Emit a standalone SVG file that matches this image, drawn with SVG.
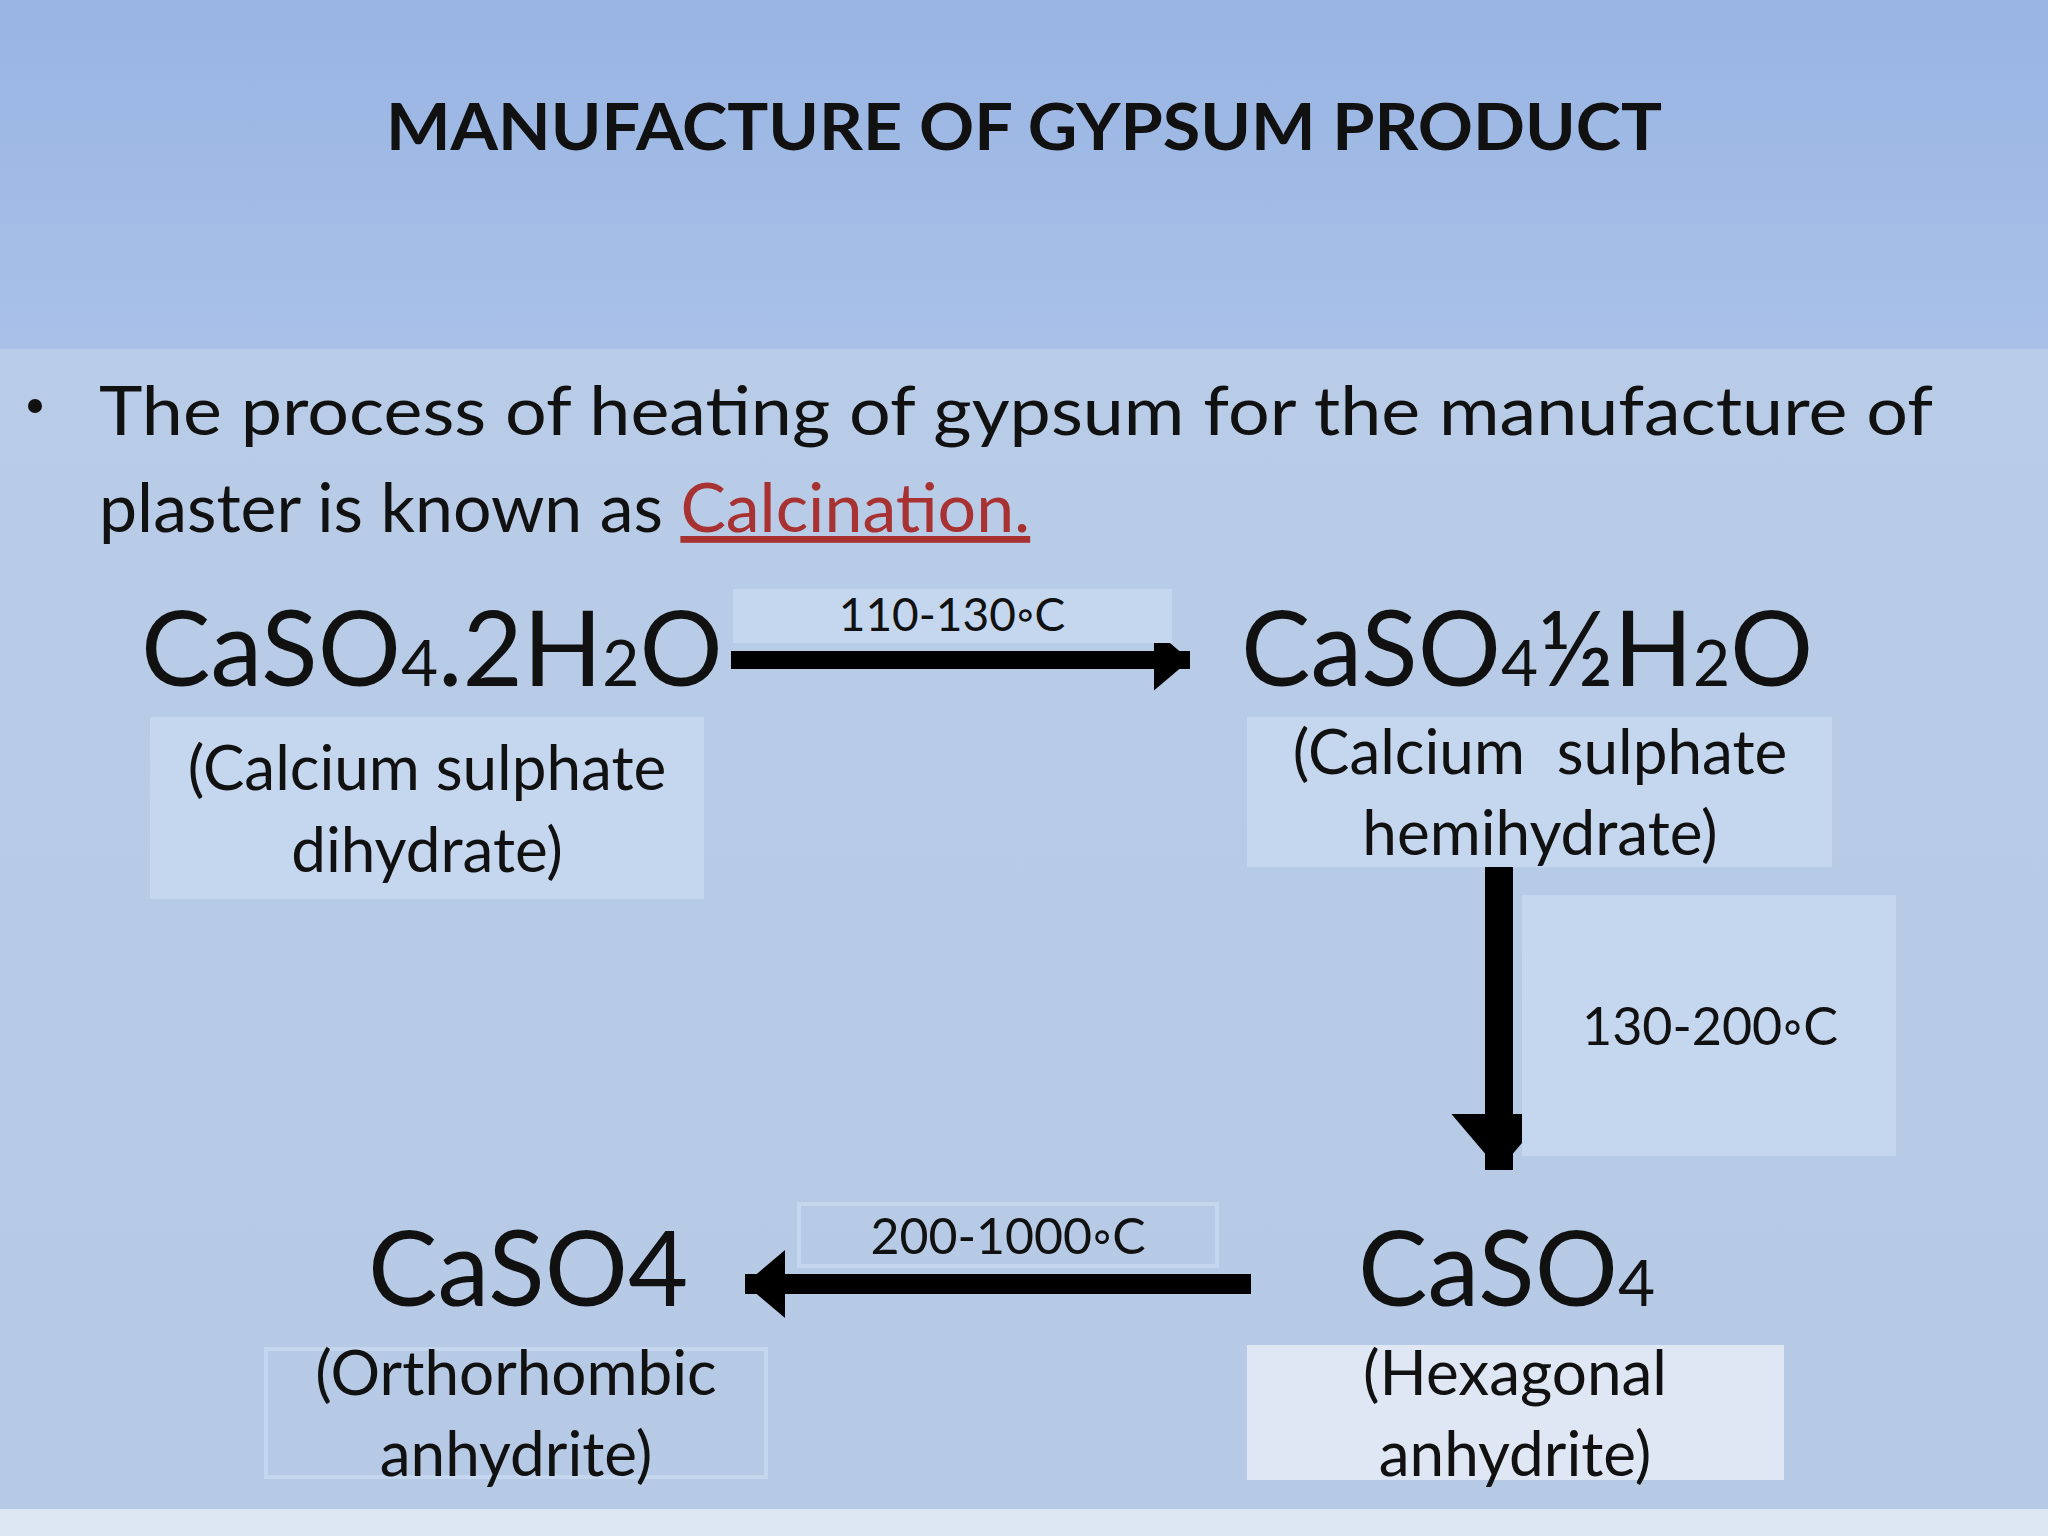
<svg xmlns="http://www.w3.org/2000/svg" width="2048" height="1536" viewBox="0 0 2048 1536">
<defs>
<linearGradient id="hd" x1="0" y1="0" x2="0" y2="1"><stop offset="0" stop-color="#98b4e2"/><stop offset="1" stop-color="#a9c1e9"/></linearGradient>
<linearGradient id="bd" x1="0" y1="0" x2="0" y2="1"><stop offset="0" stop-color="#b9cde9"/><stop offset="1" stop-color="#b6cae6"/></linearGradient>
<marker id="ah" markerWidth="4" markerHeight="4" refX="2" refY="2" orient="auto" markerUnits="strokeWidth"><path d="M0,0.3 L2,2 L0,3.7 Z" fill="#000"/></marker>
</defs>
<style>
text{font-family:Lato,"Liberation Sans",sans-serif;fill:#111}
.f{font-size:104px}.s{font-size:64px}
.l{font-size:62px;text-anchor:middle}
.t{font-size:46px;text-anchor:middle}
.ar{stroke:#000;fill:none}
</style>
<rect width="2048" height="1536" fill="url(#bd)"/>
<rect width="2048" height="349" fill="url(#hd)"/>
<rect y="1509" width="2048" height="27" fill="#dde6f3"/>
<text x="1024" y="150" font-size="65" font-weight="bold" text-anchor="middle" textLength="1276" lengthAdjust="spacingAndGlyphs">MANUFACTURE OF GYPSUM PRODUCT</text>
<g id="bullet">
<circle cx="35" cy="406" r="7" fill="#111"/>
<text x="99" y="435" font-size="68" textLength="1834" lengthAdjust="spacingAndGlyphs">The process of heating of gypsum for the manufacture of</text>
<text x="99" y="532" font-size="68">plaster is known as <tspan fill="#a83232" text-decoration="underline">Calcination.</tspan></text>
</g>
<g id="n1">
<text class="f" x="141" y="686">CaSO<tspan class="s">4</tspan>.2H<tspan class="s">2</tspan>O</text>
<rect x="150" y="717" width="554" height="182" fill="#c5d6ef"/>
<text class="l" x="427" y="790">(Calcium sulphate</text>
<text class="l" x="427" y="872">dihydrate)</text>
</g>
<g id="n2">
<text class="f" x="1241" y="686">CaSO<tspan class="s">4</tspan>½H<tspan class="s">2</tspan>O</text>
<rect x="1247" y="717" width="585" height="150" fill="#c5d6ef"/>
<text class="l" x="1540" y="774" xml:space="preserve">(Calcium  sulphate</text>
<text class="l" x="1540" y="855">hemihydrate)</text>
</g>
<g id="n3">
<text class="f" x="1358" y="1306">CaSO<tspan class="s">4</tspan></text>
<rect x="1247" y="1345" width="537" height="135" fill="#dfe7f4"/>
<text class="l" x="1515" y="1395">(Hexagonal</text>
<text class="l" x="1515" y="1476">anhydrite)</text>
</g>
<g id="n4">
<text class="f" x="368" y="1306">CaSO4</text>
<rect x="266" y="1349" width="500" height="128" fill="none" stroke="#c5d6ef" stroke-width="4"/>
<text class="l" x="516" y="1395">(Orthorhombic</text>
<text class="l" x="516" y="1476">anhydrite)</text>
</g>
<g id="connectors">
<line class="ar" x1="731" y1="660" x2="1190" y2="660" stroke-width="18" marker-end="url(#ah)"/>
<line class="ar" x1="1499" y1="867" x2="1499" y2="1170" stroke-width="28" marker-end="url(#ah)" style="stroke-width:28"/>
<line class="ar" x1="1251" y1="1284" x2="745" y2="1284" stroke-width="20" marker-end="url(#ah)"/>
</g>
<g id="labels">
<rect x="733" y="589" width="439" height="54" fill="#c5d6ef"/>
<text class="t" x="952" y="631">110-130◦C</text>
<rect x="1522" y="895" width="374" height="261" fill="#c5d6ef"/>
<text x="1710" y="1045" font-size="52" text-anchor="middle">130-200◦C</text>
<rect x="799" y="1204" width="418" height="62" fill="none" stroke="#c5d6ef" stroke-width="4"/>
<text x="1008" y="1254" font-size="50" text-anchor="middle">200-1000◦C</text>
</g>
</svg>
